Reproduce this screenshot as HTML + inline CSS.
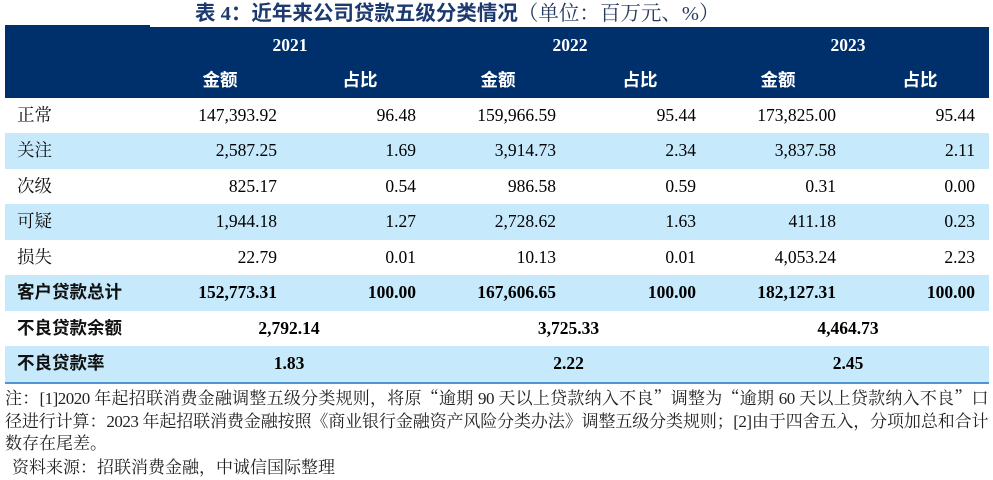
<!DOCTYPE html>
<html>
<head>
<meta charset="utf-8">
<style>
  html, body { margin:0; padding:0; }
  body { width:993px; height:478px; position:relative; overflow:hidden; background:#fff; }
  .abs { position:absolute; }
  .title { left:195px; top:0px; height:29px; line-height:29px; white-space:nowrap; font-size:20.5px; color:#1c3a70; }
  .title b { font-family:"Liberation Serif","Noto Sans CJK SC",sans-serif; font-weight:bold; }
  .title span { font-family:"Liberation Serif","Noto Serif CJK SC",serif; font-weight:normal; color:#26395e; }
  .hdr { left:5px; top:26.5px; width:984px; height:71.2px; background:#00306c; }
  .hdrtab { left:5px; top:25px; width:145px; height:2px; background:#00306c; }
  .h { position:absolute; color:#fff; font-weight:bold; white-space:nowrap; text-align:center; width:160px; }
  .yr { font-family:"Liberation Serif",serif; font-size:17.5px; top:0; height:37px; line-height:37px; }
  .sub { font-family:"Liberation Sans","Noto Sans CJK SC",sans-serif; font-size:17.5px; top:36px; height:35px; line-height:35px; }
  .r { position:absolute; left:5px; width:984px; height:35.5px; }
  .blue { background:#c6e9fb; }
  .c { position:absolute; top:0; height:35.5px; line-height:35.5px; white-space:nowrap; font-family:"Liberation Serif","Noto Serif CJK SC",serif; font-size:17.5px; color:#000; }
  .lab { left:12px; color:#111; }
  .bold .c { font-weight:bold; }
  .bold .lab { font-family:"Liberation Sans","Noto Sans CJK SC",sans-serif; }
  .n { left:0; text-align:right; }
  .m { text-align:center; width:200px; }
  .line { left:5px; top:381.7px; width:984px; height:2.3px; background:#4f95d6; }
  .fn { position:absolute; left:5px; width:983px; font-family:"Liberation Serif","Noto Serif CJK SC",serif; font-size:17px; color:#222; height:24px; line-height:24px; white-space:nowrap; overflow:visible; }
  .just { text-align:justify; text-align-last:justify; white-space:normal; letter-spacing:-0.5px; height:24px; overflow:hidden; }
  .q { font-family:"Noto Serif CJK SC",serif; }
</style>
</head>
<body>
  <div class="abs title"><b>表 4：近年来公司贷款五级分类情况</b><span>（单位：百万元、%）</span></div>

  <div class="abs hdrtab"></div>
  <div class="abs hdr">
    <div class="h yr" style="left:205px;">2021</div>
    <div class="h yr" style="left:485px;">2022</div>
    <div class="h yr" style="left:763px;">2023</div>
    <div class="h sub" style="left:135px;">金额</div>
    <div class="h sub" style="left:275px;">占比</div>
    <div class="h sub" style="left:413px;">金额</div>
    <div class="h sub" style="left:555px;">占比</div>
    <div class="h sub" style="left:693px;">金额</div>
    <div class="h sub" style="left:835px;">占比</div>
  </div>

  <div class="r" style="top:97.7px;">
    <div class="c lab">正常</div>
    <div class="c n" style="width:272px;">147,393.92</div>
    <div class="c n" style="width:411px;">96.48</div>
    <div class="c n" style="width:551px;">159,966.59</div>
    <div class="c n" style="width:691px;">95.44</div>
    <div class="c n" style="width:831px;">173,825.00</div>
    <div class="c n" style="width:970px;">95.44</div>
  </div>
  <div class="r blue" style="top:133.2px;">
    <div class="c lab">关注</div>
    <div class="c n" style="width:272px;">2,587.25</div>
    <div class="c n" style="width:411px;">1.69</div>
    <div class="c n" style="width:551px;">3,914.73</div>
    <div class="c n" style="width:691px;">2.34</div>
    <div class="c n" style="width:831px;">3,837.58</div>
    <div class="c n" style="width:970px;">2.11</div>
  </div>
  <div class="r" style="top:168.7px;">
    <div class="c lab">次级</div>
    <div class="c n" style="width:272px;">825.17</div>
    <div class="c n" style="width:411px;">0.54</div>
    <div class="c n" style="width:551px;">986.58</div>
    <div class="c n" style="width:691px;">0.59</div>
    <div class="c n" style="width:831px;">0.31</div>
    <div class="c n" style="width:970px;">0.00</div>
  </div>
  <div class="r blue" style="top:204.2px;">
    <div class="c lab">可疑</div>
    <div class="c n" style="width:272px;">1,944.18</div>
    <div class="c n" style="width:411px;">1.27</div>
    <div class="c n" style="width:551px;">2,728.62</div>
    <div class="c n" style="width:691px;">1.63</div>
    <div class="c n" style="width:831px;">411.18</div>
    <div class="c n" style="width:970px;">0.23</div>
  </div>
  <div class="r" style="top:239.7px;">
    <div class="c lab">损失</div>
    <div class="c n" style="width:272px;">22.79</div>
    <div class="c n" style="width:411px;">0.01</div>
    <div class="c n" style="width:551px;">10.13</div>
    <div class="c n" style="width:691px;">0.01</div>
    <div class="c n" style="width:831px;">4,053.24</div>
    <div class="c n" style="width:970px;">2.23</div>
  </div>
  <div class="r blue bold" style="top:275.2px;">
    <div class="c lab">客户贷款总计</div>
    <div class="c n" style="width:272px;">152,773.31</div>
    <div class="c n" style="width:411px;">100.00</div>
    <div class="c n" style="width:551px;">167,606.65</div>
    <div class="c n" style="width:691px;">100.00</div>
    <div class="c n" style="width:831px;">182,127.31</div>
    <div class="c n" style="width:970px;">100.00</div>
  </div>
  <div class="r bold" style="top:310.7px;">
    <div class="c lab">不良贷款余额</div>
    <div class="c m" style="left:184px;">2,792.14</div>
    <div class="c m" style="left:463.5px;">3,725.33</div>
    <div class="c m" style="left:743px;">4,464.73</div>
  </div>
  <div class="r blue bold" style="top:346.2px;">
    <div class="c lab">不良贷款率</div>
    <div class="c m" style="left:184px;">1.83</div>
    <div class="c m" style="left:463.5px;">2.22</div>
    <div class="c m" style="left:743px;">2.45</div>
  </div>
  <div class="abs line"></div>

  <div class="fn just" style="top:384.5px;">注：[1]2020 年起招联消费金融调整五级分类规则，将原<span class="q">“</span>逾期 90 天以上贷款纳入不良<span class="q">”</span>调整为<span class="q">“</span>逾期 60 天以上贷款纳入不良<span class="q">”</span>口</div>
  <div class="fn just" style="top:409.5px;">径进行计算：2023 年起招联消费金融按照《商业银行金融资产风险分类办法》调整五级分类规则；[2]由于四舍五入，分项加总和合计</div>
  <div class="fn" style="top:432px;">数存在尾差。</div>
  <div class="fn" style="top:455.5px; left:12px;">资料来源：招联消费金融，中诚信国际整理</div>
</body>
</html>
